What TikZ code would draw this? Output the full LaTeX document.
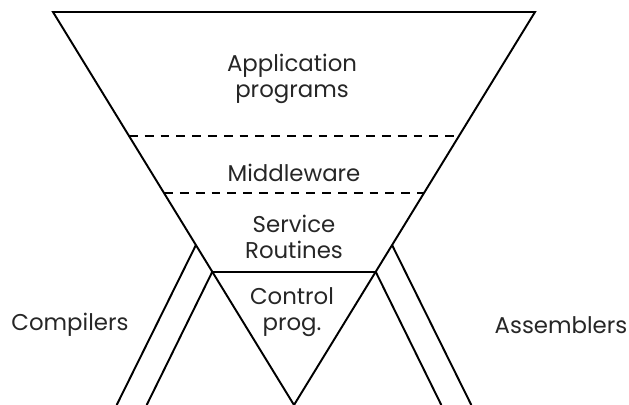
\documentclass[tikz,border=0pt]{standalone}
\usepackage{fontspec}
\setmainfont{Poppins}
\usetikzlibrary{calc}

\begin{document}
\begin{tikzpicture}[x = 0.02cm, y = -0.02cm, line width = 1.1pt,
	layer/.style = {align = center, text = black!85, inner sep = 0pt,
		font = \fontsize{13}{14.5}\selectfont},
	divider/.style = {dash pattern = on 5pt off 4pt}]

	\useasboundingbox (0, 0) rectangle (629, 405);

	% Funnel outline

	\coordinate (top left) at (53, 12);
	\coordinate (top right) at (535, 12);
	\coordinate (apex) at (294, 405);

	\draw (apex) -- (top left) -- (top right) -- (apex);

	% Layer boundaries

	\draw [divider] ($(top left)!0.315!(apex)$) -- ($(top right)!0.315!(apex)$);
	\draw [divider] ($(top left)!0.461!(apex)$) -- ($(top right)!0.461!(apex)$);

	\coordinate (ctrl left) at ($(top left)!0.661!(apex)$);
	\coordinate (ctrl right) at ($(top right)!0.661!(apex)$);
	\draw (ctrl left) -- (ctrl right);

	% Side branches

	\coordinate (comp out) at ($(top left)!0.593!(apex)$);
	\coordinate (asm out) at ($(top right)!0.593!(apex)$);
	\coordinate (comp foot out) at (116.7, 405);
	\coordinate (comp foot in) at (146.7, 405);
	\coordinate (asm foot out) at (471.3, 405);
	\coordinate (asm foot in) at (441.3, 405);

	\draw (comp out) -- (comp foot out);
	\draw (ctrl left) -- (comp foot in);
	\draw (asm out) -- (asm foot out);
	\draw (ctrl right) -- (asm foot in);

	% Labels

	\node [layer] (app) at (292, 79) {Application\\programs};
	\node [layer] (middle) at (294, 173) {Middleware};
	\node [layer] (service) at (294, 237) {Service\\Routines};
	\node [layer] (control) at (292, 312) {Control\\prog.};
	\node [layer] (comp) at (70, 325) {Compilers};
	\node [layer] (asm) at (561, 325) {Assemblers};

\end{tikzpicture}
\end{document}
